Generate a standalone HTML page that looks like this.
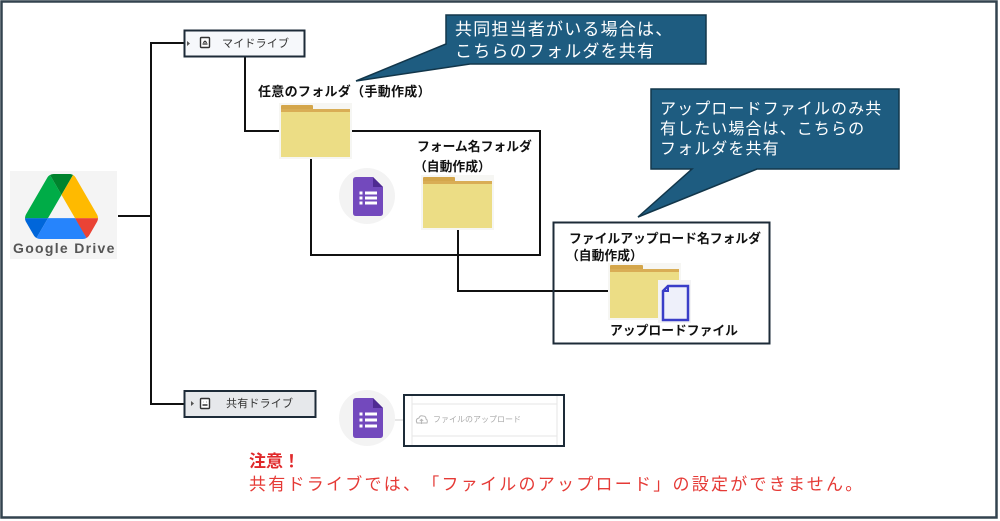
<!DOCTYPE html>
<html><head><meta charset="utf-8">
<style>
html,body{margin:0;padding:0;background:#fff;}
body{width:1000px;height:521px;position:relative;overflow:hidden;font-family:"Liberation Sans","Noto Sans CJK JP",sans-serif;text-spacing-trim:space-all;}
.t{position:absolute;white-space:nowrap;text-spacing-trim:space-all;}
.b{font-weight:bold;color:#111;font-size:12.8px;line-height:16px;}
</style></head>
<body>
<svg width="1000" height="521" style="position:absolute;left:0;top:0" xmlns="http://www.w3.org/2000/svg">
  <!-- outer frame -->
  <rect x="1.5" y="1.5" width="995" height="516" fill="#fff" stroke="#33434f" stroke-width="2.5"/>

  <!-- Google Drive logo -->
  <rect x="10" y="171" width="107" height="88" fill="#f4f4f4"/>
  <svg x="25" y="174" width="73" height="65" viewBox="0 0 87.3 78" preserveAspectRatio="none">
    <path d="m6.6 66.85 3.85 6.65c.8 1.4 1.95 2.5 3.3 3.3l13.75-23.8h-27.5c0 1.55.4 3.1 1.2 4.5z" fill="#0066da"/>
    <path d="m43.65 25-13.75-23.8c-1.35.8-2.5 1.9-3.3 3.3l-25.4 44a9.06 9.06 0 0 0 -1.2 4.5h27.5z" fill="#00ac47"/>
    <path d="m73.55 76.8c1.35-.8 2.5-1.9 3.3-3.3l1.6-2.75 7.65-13.25c.8-1.4 1.2-2.95 1.2-4.5h-27.502l5.852 11.5z" fill="#ea4335"/>
    <path d="m43.65 25 13.75-23.8c-1.35-.8-2.9-1.2-4.5-1.2h-18.5c-1.6 0-3.15.45-4.5 1.2z" fill="#00832d"/>
    <path d="m59.8 53h-32.3l-13.75 23.8c1.35.8 2.9 1.2 4.5 1.2h50.8c1.6 0 3.15-.45 4.5-1.2z" fill="#2684fc"/>
    <path d="m73.4 26.5-12.7-22c-.8-1.4-1.950-2.5-3.3-3.3l-13.75 23.8 16.15 28h27.45c0-1.55-.4-3.1-1.2-4.5z" fill="#ffba00"/>
  </svg>

  <!-- connectors -->
  <g stroke="#111" stroke-width="2" fill="none">
    <line x1="118" y1="216" x2="151" y2="216"/>
    <line x1="151" y1="42" x2="151" y2="405"/>
    <line x1="150" y1="43" x2="184" y2="43"/>
    <line x1="150" y1="404" x2="184" y2="404"/>
    <polyline points="245,57 245,131 281,131"/>
    <polyline points="350,131 540,131 540,255 311,255 311,157"/>
    <polyline points="458,228 458,291 610,291"/>
  </g>

  <!-- drive boxes -->
  <rect x="184.5" y="30.5" width="120" height="26" fill="#f6f8fb" stroke="#1d2b38" stroke-width="2"/>
  <path d="M187,41 L190,43.5 L187,46 Z" fill="#555"/>
  <rect x="200.5" y="37.5" width="9" height="10" rx="1" fill="#fff" stroke="#333" stroke-width="1.4"/>
  <path d="M202.5,44 L207.5,44 M203.5,43 Q205,39.5 206.5,43" stroke="#333" stroke-width="1.2" fill="none"/>

  <rect x="184.5" y="391" width="131" height="26" fill="#e6e8eb" stroke="#1d2b38" stroke-width="2"/>
  <path d="M191,401 L194,403.5 L191,406 Z" fill="#555"/>
  <rect x="200.5" y="398.5" width="9" height="10" rx="1" fill="#fff" stroke="#333" stroke-width="1.4"/>
  <path d="M202.5,405 L207.5,405 M203,402 L203.2,402 M206.5,402 L206.8,402" stroke="#333" stroke-width="1.4" fill="none"/>

  <!-- callouts -->
  <path d="M446,15 H706 V64 H470 L356,81 L446,44 Z" fill="#1e5c80" stroke="#12364a" stroke-width="1.5"/>
  <path d="M651,89 H899 V169 H757 L638,217 L692,169 H651 Z" fill="#1e5c80" stroke="#12364a" stroke-width="1.5"/>

  <!-- box 3 -->
  <rect x="553.5" y="222.5" width="216" height="121" fill="none" stroke="#1d2b38" stroke-width="2"/>

  <!-- folders -->
  <g>
    <rect x="279" y="103" width="73" height="56" fill="#f6f6f3"/>
    <rect x="281" y="105" width="32" height="7" rx="1" fill="#d4a64b"/>
    <rect x="281" y="109" width="69" height="4" fill="#d9ad55"/>
    <rect x="281" y="112" width="69" height="45" fill="#ecdd85"/>
  </g>
  <g>
    <rect x="421" y="175" width="73" height="55" fill="#f6f6f3"/>
    <rect x="423" y="177" width="32" height="7" rx="1" fill="#d4a64b"/>
    <rect x="423" y="181" width="69" height="4" fill="#d9ad55"/>
    <rect x="423" y="184" width="69" height="44" fill="#ecdd85"/>
  </g>
  <g>
    <rect x="608" y="263" width="73" height="57" fill="#f6f6f3"/>
    <rect x="610" y="265" width="33" height="7" rx="1" fill="#d4a64b"/>
    <rect x="610" y="269" width="69" height="4" fill="#d9ad55"/>
    <rect x="610" y="272" width="69" height="46" fill="#ecdd85"/>
  </g>

  <!-- file icon -->
  <rect x="658" y="280" width="33" height="43" fill="#f3f3f5"/>
  <path d="M668,286 L688,286 L688,320 L663,320 L663,291 Z" fill="#eef0fa" stroke="#3a3ec8" stroke-width="2.5" stroke-linejoin="miter"/>
  <path d="M663,291 L668,291 L668,286" fill="none" stroke="#3a3ec8" stroke-width="2"/>

  <!-- forms icon 1 -->
  <circle cx="367" cy="196" r="28" fill="#f3f3f3"/>
  <path d="M356,177 H373 L383,187 V213 Q383,216 380,216 H356 Q353,216 353,213 V180 Q353,177 356,177 Z" fill="#7349bd"/>
  <path d="M373,177 L383,187 L373,187 Z" fill="#4f2a92"/>
  <g fill="#fff">
    <rect x="359.5" y="191.5" width="3" height="3"/><rect x="365" y="191.5" width="12" height="3"/>
    <rect x="359.5" y="196.5" width="3" height="3"/><rect x="365" y="196.5" width="12" height="3"/>
    <rect x="359.5" y="201.5" width="3" height="3"/><rect x="365" y="201.5" width="12" height="3"/>
  </g>

  <!-- forms icon 2 -->
  <line x1="395" y1="420" x2="404" y2="420" stroke="#cfcfcf" stroke-width="1"/>
  <circle cx="367" cy="418" r="28" fill="#f3f3f3"/>
  <path d="M356,398 H373 L383,408 V435 Q383,438 380,438 H356 Q353,438 353,435 V401 Q353,398 356,398 Z" fill="#7349bd"/>
  <path d="M373,398 L383,408 L373,408 Z" fill="#4f2a92"/>
  <g fill="#fff">
    <rect x="359.5" y="412.5" width="3" height="3"/><rect x="365" y="412.5" width="12" height="3"/>
    <rect x="359.5" y="418.5" width="3" height="3"/><rect x="365" y="418.5" width="12" height="3"/>
    <rect x="359.5" y="424.5" width="3" height="3"/><rect x="365" y="424.5" width="12" height="3"/>
  </g>

  <!-- upload screenshot -->
  <rect x="404" y="395" width="160" height="51" fill="#fff" stroke="#1d2b38" stroke-width="2"/>
  <g stroke="#e6e6e6" stroke-width="1">
    <line x1="412" y1="396" x2="412" y2="445"/>
    <line x1="557" y1="396" x2="557" y2="445"/>
    <line x1="412" y1="404" x2="557" y2="404"/>
    <line x1="412" y1="436" x2="557" y2="436"/>
  </g>
  <path d="M417,423 Q415,419 419,418 Q420,415 423,416 Q426,416 426,419 Q428,420 427,423 Z" fill="none" stroke="#b5b5b5" stroke-width="1"/>
  <path d="M421.5,424 V419.5 M419.8,421 L421.5,419.3 L423.2,421" fill="none" stroke="#b5b5b5" stroke-width="0.9"/>
</svg>

<div class="t" style="left:13px;top:240px;font-size:14px;line-height:16px;font-weight:bold;color:#555;letter-spacing:1.3px;">Google Drive</div>

<div class="t" style="left:222px;top:37px;font-size:11px;line-height:14px;color:#333;letter-spacing:0.2px;">マイドライブ</div>
<div class="t" style="left:226px;top:397px;font-size:11px;line-height:14px;color:#333;letter-spacing:0.2px;">共有ドライブ</div>

<div class="t" style="left:455px;top:18.5px;font-size:17px;line-height:22px;color:#fff;letter-spacing:1.2px;">共同担当者がいる場合は、<br>こちらのフォルダを共有</div>
<div class="t" style="left:660px;top:99.5px;font-size:16px;line-height:20px;color:#fff;letter-spacing:1.1px;">アップロードファイルのみ共<br>有したい場合は、こちらの<br>フォルダを共有</div>

<div class="t b" style="left:258px;top:83.5px;font-size:13px;letter-spacing:0.3px;">任意のフォルダ（手動作成）</div>
<div class="t b" style="left:417px;top:139px;">フォーム名フォルダ</div>
<div class="t b" style="left:414px;top:158.5px;">（自動作成）</div>
<div class="t b" style="left:569px;top:231px;">ファイルアップロード名フォルダ</div>
<div class="t b" style="left:566px;top:248px;">（自動作成）</div>
<div class="t b" style="left:610px;top:323px;">アップロードファイル</div>

<div class="t" style="left:433px;top:415px;font-size:8px;line-height:10px;color:#aaa;">ファイルのアップロード</div>

<div class="t" style="left:249px;top:451px;font-size:17px;line-height:21px;font-weight:bold;color:#e0282a;">注意！</div>
<div class="t" style="left:249px;top:474px;font-size:17px;line-height:21px;color:#e53a36;letter-spacing:2.25px;">共有ドライブでは、「ファイルのアップロード」の設定ができません。</div>
</body></html>
